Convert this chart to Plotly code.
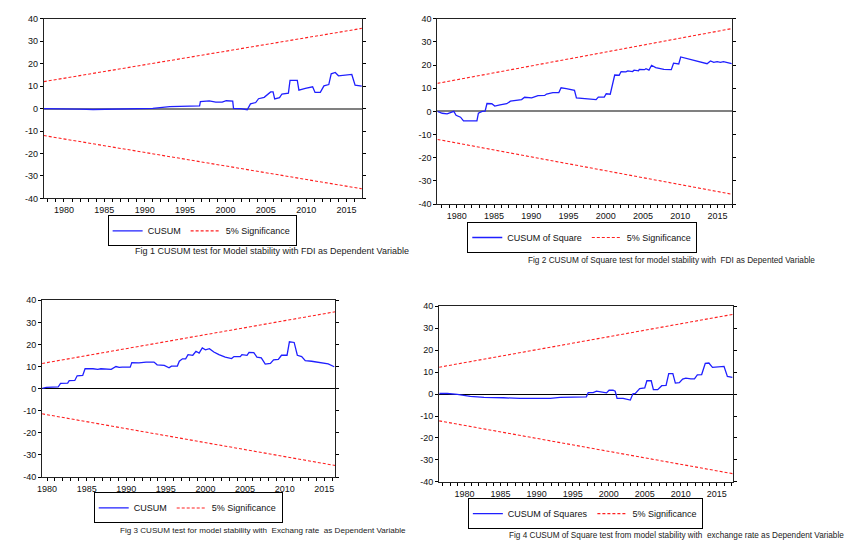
import plotly.graph_objects as go

# ---------------- data ----------------
fig1_year = [1977.5, 1980.0, 1982.0, 1983.6, 1985.0, 1987.0, 1989.0, 1991.0, 1993.1, 1995.0,
             1996.8, 1996.9, 1998.0, 1998.8, 1999.6, 2000.1, 2000.9, 2001.0, 2001.9, 2002.7,
             2003.1, 2003.75, 2004.1, 2004.8, 2005.6, 2005.9, 2006.1, 2006.7, 2007.0, 2007.8,
             2008.0, 2008.9, 2009.1, 2009.9, 2010.5, 2010.8, 2011.1, 2011.75, 2012.2, 2012.8,
             2013.1, 2013.6, 2014.0, 2015.65, 2016.06, 2016.9]
fig1_cusum = [0.0, 0.0, -0.2, -0.4, -0.3, -0.2, -0.1, 0.1, 0.9, 1.0,
              1.2, 3.1, 3.4, 2.9, 2.9, 3.5, 3.3, 0.1, 0.0, -0.5,
              2.1, 2.7, 4.4, 5.0, 7.4, 7.4, 4.3, 4.9, 6.5, 6.9,
              12.6, 12.6, 8.2, 9.0, 9.7, 9.7, 7.2, 7.2, 10.1, 10.7,
              15.5, 16.1, 14.6, 15.2, 10.4, 10.0]

fig2_year = [1977.4, 1978.05, 1978.7, 1979.16, 1979.6, 1979.9, 1980.5, 1980.9, 1982.7, 1982.9,
             1983.4, 1983.8, 1984.05, 1984.7, 1985.1, 1985.8, 1986.7, 1987.2, 1988.05, 1988.7,
             1989.1, 1989.8, 1990.05, 1990.9, 1991.8, 1992.05, 1992.9, 1993.7, 1994.0, 1994.7,
             1995.2, 1995.8, 1996.06, 1997.2, 1998.7, 1999.0, 1999.8, 2000.06, 2000.6, 2001.2,
             2001.8, 2002.06, 2002.7, 2002.95, 2003.6, 2003.8, 2004.4, 2004.5, 2005.2, 2005.4,
             2005.8, 2006.15, 2006.7, 2007.8, 2008.3, 2008.8, 2009.1, 2009.8, 2010.06, 2010.95,
             2011.8, 2012.7, 2013.6, 2014.06, 2014.5, 2014.95, 2015.4, 2015.8, 2016.3, 2016.9]
fig2_cusumsq = [0.0, -0.8, -1.1, -0.4, 0.0, -1.7, -2.5, -4.1, -4.1, -0.8,
                0.0, 0.15, 3.4, 3.3, 2.3, 2.8, 3.3, 4.4, 4.8, 5.1,
                6.1, 5.9, 5.8, 6.8, 6.9, 7.5, 8.1, 8.1, 10.2, 9.8,
                9.6, 9.1, 5.8, 5.5, 5.1, 6.2, 6.2, 7.6, 7.4, 15.7,
                15.6, 17.2, 17.1, 17.5, 17.2, 17.8, 17.5, 18.1, 18.0, 18.4,
                17.8, 19.9, 18.9, 18.1, 18.2, 18.0, 20.8, 20.5, 23.5, 22.8,
                21.8, 21.2, 20.6, 21.8, 21.2, 21.5, 21.2, 21.5, 21.1, 20.6]

fig3_year = [1979.4, 1979.9, 1981.4, 1981.7, 1982.6, 1982.8, 1983.5, 1983.8, 1984.5, 1984.8,
             1985.8, 1986.4, 1986.8, 1987.5, 1988.1, 1988.7, 1989.1, 1989.5, 1990.5, 1990.7,
             1991.6, 1992.5, 1993.5, 1993.9, 1994.8, 1995.4, 1995.7, 1996.45, 1996.7, 1997.1,
             1997.5, 1997.8, 1998.4, 1998.8, 1999.2, 1999.6, 2000.0, 2000.5, 2001.06, 2001.7,
             2002.5, 2003.3, 2003.6, 2004.4, 2004.6, 2005.25, 2005.5, 2006.1, 2006.5, 2007.05,
             2007.55, 2008.2, 2008.6, 2009.2, 2009.6, 2010.3, 2010.6, 2011.2, 2011.6, 2012.15,
             2012.6, 2013.4, 2014.5, 2015.5, 2016.26]
fig3_cusum = [0.15, 0.6, 0.75, 2.4, 2.5, 3.6, 3.7, 5.8, 6.0, 9.0,
              9.0, 8.7, 9.0, 8.8, 8.7, 10.0, 9.6, 9.7, 9.7, 11.8,
              11.7, 12.0, 12.0, 10.8, 10.5, 9.4, 10.2, 10.2, 12.4, 13.5,
              13.5, 15.4, 15.1, 16.9, 16.1, 18.4, 17.6, 18.1, 16.6, 15.4,
              14.3, 13.6, 14.5, 14.5, 15.4, 15.1, 16.4, 16.3, 14.3, 13.9,
              11.1, 11.4, 13.0, 13.2, 15.1, 15.1, 21.2, 20.9, 15.1, 14.5,
              12.7, 12.4, 11.8, 11.2, 9.9]

fig4_year = [1976.5, 1977.6, 1979.0, 1980.8, 1982.7, 1984.05, 1985.4, 1987.7, 1990.0, 1991.9,
             1993.25, 1994.6, 1996.5, 1996.9, 1997.16, 1997.85, 1998.3, 1999.0, 1999.7, 2000.05,
             2000.6, 2000.9, 2001.16, 2002.0, 2002.7, 2003.0, 2003.36, 2003.7, 2004.3, 2005.0,
             2005.3, 2005.9, 2006.2, 2006.8, 2007.36, 2007.96, 2008.33, 2008.9, 2009.25, 2009.8,
             2010.26, 2010.7, 2011.4, 2011.9, 2012.3, 2012.9, 2013.4, 2013.9, 2014.4, 2015.1,
             2016.0, 2016.47, 2017.16]
fig4_cusumsq = [0.24, 0.24, -0.2, -1.1, -1.55, -1.55, -1.7, -2.0, -2.15, -2.0,
                -1.55, -1.55, -1.4, -1.25, 0.68, 0.68, 1.28, 0.83, 0.54, 1.73,
                1.73, 1.28, -2.0, -2.0, -2.74, -2.74, 0.09, 0.24, 2.47, 2.77,
                6.05, 6.05, 2.0, 2.0, 3.8, 3.96, 9.3, 9.3, 5.0, 5.15,
                6.8, 7.24, 6.94, 6.94, 8.73, 8.88, 13.94, 14.1, 12.16, 12.3,
                12.6, 8.0, 7.54]

# 5% significance bounds (straight lines, end points)
bound1_year = [1977.5, 2016.9]
bound1_upper = [12.0, 35.7]
bound1_lower = [-12.0, -35.7]
bound2_year = [1977.4, 2017.0]
bound2_upper = [12.1, 35.8]
bound2_lower = [-12.1, -35.8]
bound3_year = [1979.37, 2016.4]
bound3_upper = [11.4, 34.8]
bound3_lower = [-11.4, -34.8]
bound4_year = [1976.47, 2017.3]
bound4_upper = [12.2, 36.3]
bound4_lower = [-12.2, -36.3]

series_names = ["CUSUM", "CUSUM of Square", "CUSUM", "CUSUM of Squares"]
bound_name = "5% Significance"
x_tick_labels = [1980, 1985, 1990, 1995, 2000, 2005, 2010, 2015]
y_tick_labels = [-40, -30, -20, -10, 0, 10, 20, 30, 40]
captions = [
    "Fig 1 CUSUM test for Model stability with FDI as Dependent Variable",
    "Fig 2 CUSUM of Square test for model stability with  FDI as Depented Variable",
    "Fig 3 CUSUM test for model stability with  Exchang rate  as Dependent Variable",
    "Fig 4 CUSUM of Square test from model stability with  exchange rate as Dependent Variable",
]

# ---------------- layout helpers (pixel geometry of the 848x553 page) ----------------
W, H = 848, 553
panels = [
    dict(x=fig1_year, y=fig1_cusum, by=bound1_year, bu=bound1_upper, bl=bound1_lower,
         px=(39, 359), py=(14, 197), xr=(1977.5, 2016.9), zc="#808080", zw=2,
         leg=(198.3, 230), cap=(268.9, 250.7), capsize=9.0),
    dict(x=fig2_year, y=fig2_cusumsq, by=bound2_year, bu=bound2_upper, bl=bound2_lower,
         px=(435, 731.7), py=(14, 202.7), xr=(1977.4, 2017.0), zc="#808080", zw=2,
         leg=(580.7, 236.8), cap=(670.5, 260), capsize=8.25),
    dict(x=fig3_year, y=fig3_cusum, by=bound3_year, bu=bound3_upper, bl=bound3_lower,
         px=(37.3, 332.3), py=(300.7, 480.7), xr=(1979.37, 2016.4), zc="#000000", zw=1.3,
         leg=(184.3, 512.2), cap=(259.4, 535.5), capsize=8.1),
    dict(x=fig4_year, y=fig4_cusumsq, by=bound4_year, bu=bound4_upper, bl=bound4_lower,
         px=(436.7, 732.7), py=(306.7, 485.7), xr=(1976.47, 2017.3), zc="#000000", zw=1.3,
         leg=(583.8, 518.0), cap=(675.7, 540.0), capsize=8.2),
]

FONT = "Liberation Sans, Arial, sans-serif"
fig = go.Figure()
layout = dict(width=W, height=H, margin=dict(l=0, r=0, t=0, b=0),
              paper_bgcolor="white", plot_bgcolor="white",
              font=dict(family=FONT, color="#111111"), annotations=[])

for i, p in enumerate(panels):
    k = "" if i == 0 else str(i + 1)
    xa, ya = "x" + k, "y" + k
    lg = "legend" + k
    fig.add_trace(go.Scatter(x=p["x"], y=p["y"], mode="lines", name=series_names[i],
                             line=dict(color="#1f1fff", width=1.3), xaxis=xa, yaxis=ya,
                             legend=lg, hoverinfo="skip"))
    fig.add_trace(go.Scatter(x=p["by"], y=p["bu"], mode="lines", name=bound_name,
                             line=dict(color="#ff2020", width=1.1, dash="3px,2px"),
                             xaxis=xa, yaxis=ya, legend=lg, legendgroup="b" + k,
                             hoverinfo="skip"))
    fig.add_trace(go.Scatter(x=p["by"], y=p["bl"], mode="lines", name=bound_name,
                             line=dict(color="#ff2020", width=1.1, dash="3px,2px"),
                             xaxis=xa, yaxis=ya, legend=lg, legendgroup="b" + k,
                             showlegend=False, hoverinfo="skip"))
    layout["xaxis" + k] = dict(
        domain=[p["px"][0] / W, p["px"][1] / W], anchor=ya, range=list(p["xr"]),
        tickmode="array", tickvals=x_tick_labels, ticktext=[str(v) for v in x_tick_labels],
        ticks="outside", ticklen=3, tickcolor="#000", showline=True, linecolor="#222",
        linewidth=1, mirror=True, showgrid=False, zeroline=False,
        tickfont=dict(size=9, family=FONT, color="#111"),
        minor=dict(dtick=1, tick0=1980, ticks="outside", ticklen=3, tickcolor="#000",
                   showgrid=False))
    layout["yaxis" + k] = dict(
        domain=[1 - p["py"][1] / H, 1 - p["py"][0] / H], anchor=xa, range=[-40, 40],
        tickmode="array", tickvals=y_tick_labels, ticktext=[str(v) for v in y_tick_labels],
        ticks="outside", ticklen=3, tickcolor="#000", showline=True, linecolor="#222",
        linewidth=1, mirror="ticks", showgrid=False, zeroline=True,
        zerolinecolor=p["zc"], zerolinewidth=p["zw"],
        tickfont=dict(size=9, family=FONT, color="#111"))
    layout[lg] = dict(orientation="h", x=p["leg"][0] / W, y=1 - p["leg"][1] / H,
                      xanchor="center", yanchor="middle", bordercolor="#000", borderwidth=1,
                      bgcolor="white", font=dict(size=9, family=FONT, color="#111"),
                      tracegroupgap=0, itemwidth=30)
    layout["annotations"].append(dict(
        text=captions[i], xref="paper", yref="paper", x=p["cap"][0] / W,
        y=1 - p["cap"][1] / H, xanchor="center", yanchor="middle", showarrow=False,
        font=dict(size=p["capsize"], family=FONT, color="#222")))

fig.update_layout(**layout)
fig.write_html("out.html", config={"displayModeBar": False},
               post_script="document.body.style.margin='0';document.body.style.overflow='hidden';")
